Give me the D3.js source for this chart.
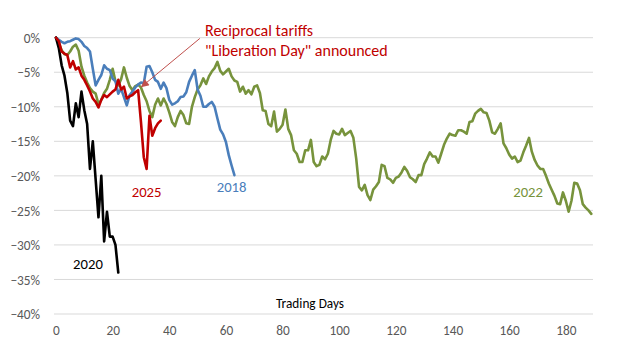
<!DOCTYPE html>
<html><head><meta charset="utf-8">
<script src="https://cdn.jsdelivr.net/npm/d3@7"></script>
<style>
body{margin:0;background:#fff}
svg{display:block}
text{font-family:Carlito,Lato,"Open Sans",sans-serif}
</style>
</head><body>
<svg id="chart" width="626" height="345"></svg>
<script>
// ---- data ----
const xTicks = [0,20,40,60,80,100,120,140,160,180];
const yTicks = [0,-5,-10,-15,-20,-25,-30,-35,-40];
const xTitle = "Trading Days";

const s2020 = [0,-1.5,-4,-5.5,-8,-12,-12.8,-9.5,-11.5,-7.8,-10.5,-12.5,-19,-15,-20.5,-26,-20,-29.5,-25.2,-28.8,-28.8,-30,-34];

const s2025 = [0,-0.5,-2,-2.3,-2.5,-4.3,-3.4,-4.6,-4.3,-5.5,-6.1,-6.9,-7.8,-8.8,-9.3,-10.1,-9,-8.3,-8.6,-8.2,
  -7.8,-7.5,-6.1,-7.5,-7.1,-8.8,-8.5,-8.3,-7.9,-7.6,-12.2,-17.3,-19,-11.3,-14.2,-13.1,-12.4,-12];

const s2018 = [0,-0.3,-0.6,-0.8,-0.6,-0.5,-0.3,-0.1,-0.2,-0.6,-1.2,-1.5,-2,-4.5,-6.9,-6.1,-5.4,-4,-4.5,-4.7,
  -5.9,-6.3,-8.1,-7.4,-8.6,-9.8,-8.3,-7.8,-7.2,-6.8,-6.5,-6.6,-4.2,-4.1,-5,-6.1,-6.4,-7.4,-6.5,-7.3,
  -9,-9.7,-9.5,-9.2,-8.6,-8.5,-7.9,-6.4,-5.5,-4.7,-7.5,-8.4,-10,-10,-9.6,-9.3,-10,-11.7,-13.3,-14,
  -15.1,-17,-18.5,-19.9];

const s2022 = [0,-0.8,-1.8,-2.4,-2.5,-2,-1.3,-1,-1.9,-4.2,-5.5,-6.5,-7.3,-7.8,-8.1,-9.6,-9,-8,-7.4,-6.1,
  -4.5,-6.3,-6.9,-6,-4.3,-5.8,-7,-7.6,-7,-6.8,-7.2,-8.3,-9.2,-10.6,-11.5,-9.7,-8.8,-9.8,-8.8,-9.6,
  -10.8,-12.2,-12.8,-11.5,-10.6,-11.2,-12.4,-12.5,-10,-8.6,-7.5,-6.9,-5.9,-6.7,-5.6,-4.9,-4.4,-3.5,-4.8,-5.3,
  -4.9,-4.5,-5.6,-6.2,-6.4,-7.8,-7.1,-8.1,-7.6,-8.2,-7.1,-6.9,-8,-10.5,-10.6,-12.5,-12.8,-10.7,-13.6,-13.2,
  -12.6,-10.4,-13.2,-14.1,-16.3,-16.8,-18,-18,-16.3,-16.3,-14.8,-18,-18.6,-18.4,-17.2,-17.6,-16.8,-14.8,-13.5,-13.9,
  -14,-13.2,-14.1,-13.8,-13.5,-14.5,-17.5,-21.6,-22.1,-21.3,-22.8,-23.5,-22,-21.5,-20.9,-18.4,-18.6,-20.3,-20.5,-21,
  -20.3,-20.1,-19.5,-18.7,-19.3,-20.2,-20.5,-20.9,-19.9,-19.9,-18.3,-17.5,-16.6,-17.2,-17.2,-18.1,-16.8,-15.5,-14.6,-13.9,
  -14.1,-14.2,-13.4,-13.4,-13.6,-13.9,-12.2,-12.1,-11,-10.6,-10.3,-10.8,-10.9,-12,-13.7,-13.9,-13.2,-12.4,-15.3,-16,
  -16.9,-17.5,-17.2,-18,-17.8,-16.6,-15.6,-14.5,-16.5,-17.7,-18.5,-19,-19,-20,-21.1,-22,-22.9,-24,-24.1,-22.4,
  -23.6,-25.2,-23.6,-21,-21.1,-22.1,-24.1,-24.6,-25,-25.5];

const seriesNames = ["2022","2018","2020","2025"];
const seriesValues = [s2022, s2018, s2020, s2025];

// label anchor positions (in data units: trading day, percent)
const labelDays = [166.7, 62, 11.3, 32];
const labelValues = [-23.1, -22.3, -33.5, -23];

const annotationLines = ["Reciprocal tariffs", "\"Liberation Day\" announced"];
const annotationTip = [30.2, -7.1];
const annotationStart = [50.8, -0.1];

// ---- styling ----
const colors = {"2022":"#77933C","2018":"#4A7EBB","2020":"#000000","2025":"#C00000"};
const W = 626, H = 345;
const plot = {left:54, right:593, top:37.7, bottom:314};

const svg = d3.select("#chart");
svg.append("rect").attr("width",W).attr("height",H).attr("fill","#fff");

const x = d3.scaleLinear().domain([-0.7,189.6]).range([plot.left, plot.right]);
const y = d3.scaleLinear().domain([-40,0]).range([plot.bottom, plot.top]);

// gridlines
svg.append("g").selectAll("line").data(yTicks).join("line")
  .attr("x1",plot.left).attr("x2",plot.right)
  .attr("y1",d=>y(d)).attr("y2",d=>y(d))
  .attr("stroke","#d9d9d9").attr("stroke-width",1);

// y axis labels
const yAxis = d3.axisLeft(y).tickValues(yTicks).tickSize(0).tickPadding(0)
  .tickFormat(d=>d3.format("d")(d)+"%");
const gy = svg.append("g").attr("transform",`translate(40,0)`).call(yAxis);
gy.select(".domain").remove();
gy.selectAll("text").attr("fill","#595959").attr("font-size","13.3px").attr("dy","0.35em");

// x axis labels
const xAxis = d3.axisBottom(x).tickValues(xTicks).tickSize(0).tickPadding(0).tickFormat(d3.format("d"));
const gx = svg.append("g").attr("transform",`translate(0,326)`).call(xAxis);
gx.select(".domain").remove();
gx.selectAll("text").attr("fill","#595959").attr("font-size","13.3px").attr("dy","0.71em");

// x title
svg.append("text").attr("x",310).attr("y",308).attr("text-anchor","middle")
  .attr("font-size","13.3px").attr("fill","#000").text(xTitle);

// lines
const line = d3.line().x((d,i)=>x(i)).y(d=>y(d)).curve(d3.curveLinear);
seriesNames.forEach((n,k)=>{
  svg.append("path").datum(seriesValues[k])
    .attr("d",line).attr("fill","none")
    .attr("stroke",colors[n]).attr("stroke-width",2.6)
    .attr("stroke-linejoin","round").attr("stroke-linecap","round");
});

// series labels
seriesNames.forEach((n,k)=>{
  svg.append("text").attr("x",x(labelDays[k])).attr("y",y(labelValues[k]))
    .attr("text-anchor","middle").attr("font-size","14.7px").attr("fill",colors[n]).text(n);
});

// annotation arrow
const defs = svg.append("defs");
defs.append("marker").attr("id","arr").attr("viewBox","0 0 10 10").attr("refX",9).attr("refY",5)
  .attr("markerWidth",10).attr("markerHeight",8).attr("orient","auto")
  .append("path").attr("d","M0,0 L10,5 L0,10 z").attr("fill","#C0504D");
svg.append("line")
  .attr("x1",x(annotationStart[0])).attr("y1",y(annotationStart[1]))
  .attr("x2",x(annotationTip[0])).attr("y2",y(annotationTip[1]))
  .attr("stroke","#C0504D").attr("stroke-width",1).attr("marker-end","url(#arr)");

svg.append("g").selectAll("text").data(annotationLines).join("text")
  .attr("x",205).attr("y",(d,i)=>36+i*19.5)
  .attr("font-size","16px").attr("fill","#C00000").text(d=>d);
</script>
</body></html>
